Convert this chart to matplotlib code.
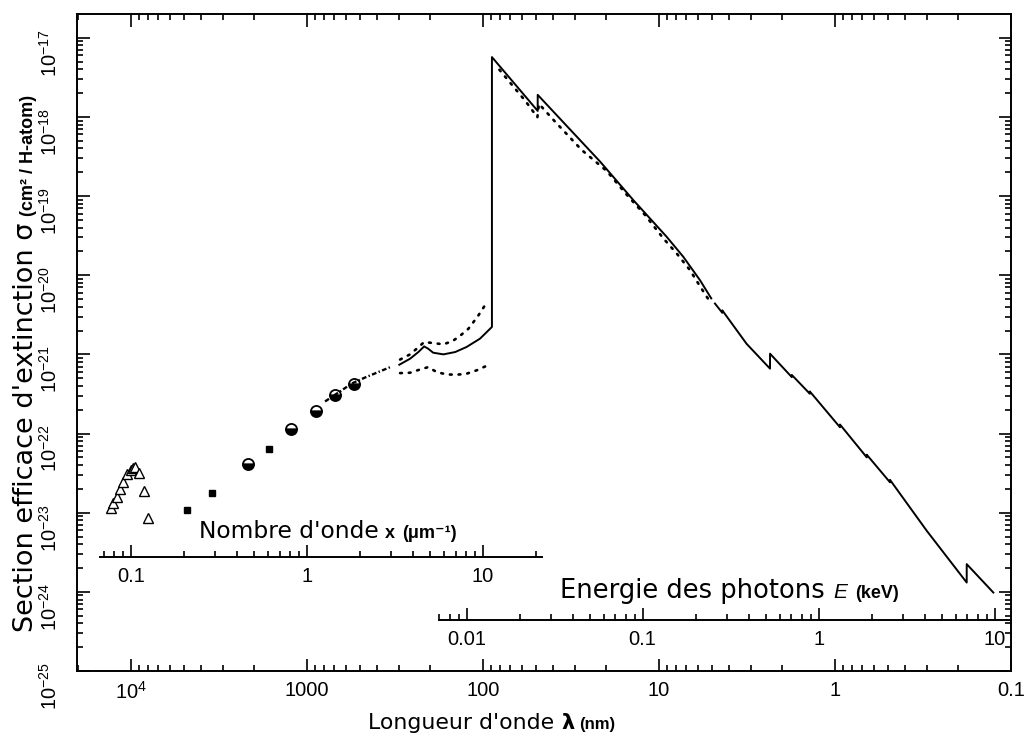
import numpy as np
import matplotlib
matplotlib.use('Agg')
import matplotlib.pyplot as plt
from matplotlib.ticker import FixedLocator, LogLocator, NullFormatter

plt.rcParams['font.family'] = ['Liberation Sans', 'DejaVu Sans']
plt.rcParams['mathtext.fontset'] = 'custom'
plt.rcParams['mathtext.rm'] = 'Liberation Sans'
plt.rcParams['mathtext.it'] = 'Liberation Sans:italic'
plt.rcParams['mathtext.bf'] = 'Liberation Sans:bold'

# Infrared points (triangles), lambda in nm, sigma in cm2 / H-atom
ir_lam = [13040, 12610, 12060, 11550, 11060, 10580, 10040, 9740, 9450, 8970, 8440, 7970]
ir_sig = [1.16e-23, 1.31e-23, 1.56e-23, 2.01e-23, 2.42e-23, 3.09e-23, 3.47e-23, 3.72e-23,
          3.74e-23, 3.15e-23, 1.86e-23, 8.6e-24]

# near-IR photometry (filled squares) and optical bands (circles)
sq_lam = [4790, 3480, 1640]
sq_sig = [1.08e-23, 1.75e-23, 6.4e-23]
ci_lam = [2170, 1230, 890, 690, 540]
ci_sig = [4.1e-23, 1.15e-22, 1.95e-22, 3.1e-22, 4.2e-22]

# optical extinction (dash-dot)
opt_lam = [790, 555, 468, 329]
opt_sig = [2.54e-22, 4.3e-22, 5.1e-22, 7.05e-22]

# UV extinction (solid) then X-ray absorption (solid)
uv_lam = [299, 260, 233, 216, 205, 192, 168, 144, 124, 104, 89]
uv_sig = [7.4e-22, 8.8e-22, 1.07e-21, 1.26e-21, 1.18e-21, 1.05e-21, 1.0e-21, 1.07e-21,
          1.24e-21, 1.58e-21, 2.22e-21]
xr_lam = [89, 48.9, 48.9, 21.6, 14.0, 9.04, 7.28, 5.85, 5.05, np.nan, 4.81, 4.37, 4.37,
          3.18, 2.34, 2.34, 1.76, 1.76, 1.39, 1.39, 0.937, 0.937, 0.66, 0.66, 0.487, 0.487,
          0.301, 0.1785, 0.1785, 0.126]
xr_sig = [5.7e-18, 1.19e-18, 1.9e-18, 2.72e-19, 8.9e-20, 3.05e-20, 1.71e-20, 8.65e-21, 5.1e-21,
          np.nan, 4.39e-21, 3.35e-21, 3.6e-21, 1.36e-21, 6.6e-22, 1.02e-21, 5.16e-22, 5.5e-22,
          3.18e-22, 3.4e-22, 1.2e-22, 1.3e-22, 5.0e-23, 5.4e-23, 2.42e-23, 2.6e-23,
          5.9e-24, 1.31e-24, 2.24e-24, 9.8e-25]

# dotted curves: UV upper / lower envelopes and X-ray (gas only)
up_lam = [296, 262, 238, 216, 192, 168, 149, 134, 121, 107, 95]
up_sig = [8.6e-22, 9.9e-22, 1.18e-21, 1.43e-21, 1.39e-21, 1.34e-21, 1.47e-21, 1.74e-21,
          2.11e-21, 3.03e-21, 4.55e-21]
lo_lam = [296, 260, 230, 205, 183, 161, 141, 124, 109, 97]
lo_sig = [5.8e-22, 5.86e-22, 6.4e-22, 6.9e-22, 5.97e-22, 5.58e-22, 5.53e-22, 5.7e-22,
          6.27e-22, 7.05e-22]
xd_lam = [80.7, 67.8, 57.7, 49.1, 48.1, 39.0, 27.5, 19.8, 15.6, 12.0, 9.45, 7.93, 6.67, 5.85, 5.13]
xd_sig = [3.94e-18, 2.47e-18, 1.61e-18, 9.9e-19, 1.46e-18, 8.73e-19, 3.82e-19, 2.07e-19,
          1.10e-19, 5.75e-20, 2.92e-20, 1.88e-20, 1.16e-20, 7.26e-21, 4.6e-21]

lam_ticks = [1e4, 1e3, 100, 10, 1, 0.1]
lam_labels = ['$10^4$', '1000', '100', '10', '1', '0.1']
sig_ticks = [10.0**e for e in range(-25, -16)]
sig_labels = ['$10^{%d}$' % e for e in range(-25, -16)]
wn_ticks = [0.1, 1, 10]
wn_labels = ['0.1', '1', '10']
en_ticks = [0.01, 0.1, 1, 10]
en_labels = ['0.01', '0.1', '1', '10']

W, H = 1025, 740
fig = plt.figure(figsize=(W / 100, H / 100), dpi=100)
ax = fig.add_axes([77 / W, 1 - 671 / H, 934 / W, 657 / H])
ax.set_xscale('log')
ax.set_yscale('log')
ax.set_xlim(10**4.307, 0.1)
ax.set_ylim(1e-25, 10**-16.7)

dots = (0, (0.7, 2.6))
ax.plot(uv_lam + xr_lam, uv_sig + xr_sig, color='k', lw=1.4)
ax.plot(up_lam, up_sig, color='k', lw=1.9, ls=dots, dash_capstyle='round')
ax.plot(lo_lam, lo_sig, color='k', lw=1.9, ls=dots, dash_capstyle='round')
ax.plot(xd_lam, xd_sig, color='k', lw=1.9, ls=dots, dash_capstyle='round')
ax.plot(opt_lam, opt_sig, color='k', lw=1.7, ls=(0, (2.0, 1.0, 0.6, 1.0)))
ax.plot(ir_lam, ir_sig, ls='none', marker='^', mfc='white', mec='k', ms=7, mew=1)
ax.plot(sq_lam, sq_sig, ls='none', marker='s', color='k', ms=4)
ax.plot(ci_lam, ci_sig, ls='none', marker='o', mfc='k', mec='k', ms=8, mew=1.3,
        fillstyle='bottom')

for s in ax.spines.values():
    s.set_linewidth(1.4)
ax.set_xticks(lam_ticks, lam_labels)
ax.set_yticks(sig_ticks, sig_labels)
ax.xaxis.set_minor_locator(LogLocator(base=10, subs=np.arange(2, 10), numticks=100))
ax.yaxis.set_minor_locator(LogLocator(base=10, subs=np.arange(2, 10), numticks=100))
ax.xaxis.set_minor_formatter(NullFormatter())
ax.yaxis.set_minor_formatter(NullFormatter())
ax.tick_params(which='both', direction='in', top=True, right=True, width=1.2)
ax.tick_params(which='major', length=9, labelsize=14.5)
ax.tick_params(which='minor', length=4.5)
ax.tick_params(axis='x', pad=7)
ax.tick_params(axis='y', pad=12, labelrotation=90)


def inv_scale(k):
    def f(v):
        v = np.array(v, dtype=float)
        out = np.full_like(v, np.inf)
        ok = ~np.isclose(v, 0)
        out[ok] = k / v[ok]
        return out
    return f


def side_axis(loc, k, lo, hi, ticks, labels):
    sec = ax.secondary_xaxis(loc, functions=(inv_scale(k), inv_scale(k)))
    sec.spines['bottom'].set_bounds(lo, hi)
    sec.spines['bottom'].set_linewidth(1.4)
    sec.set_xticks(ticks, labels)
    minor = [m * 10.0**d for d in range(-3, 3) for m in range(2, 10) if lo <= m * 10.0**d <= hi]
    sec.xaxis.set_minor_locator(FixedLocator(minor))
    sec.xaxis.set_minor_formatter(NullFormatter())
    sec.tick_params(which='both', direction='in', width=1.2, labelsize=14.5, pad=7)
    sec.tick_params(which='major', length=9)
    sec.tick_params(which='minor', length=4.5)
    return sec


# wave number x = 1000 / lambda (um^-1), photon energy E = 1.23984 / lambda (keV)
side_axis(0.1735, 1000.0, 0.0667, 21.6, wn_ticks, wn_labels)
side_axis(0.0776, 1.23984, 0.00697, 12.4, en_ticks, en_labels)


def big(size):
    return dict(family=['DejaVu Sans'], fontsize=size)


def unit(size):
    return dict(family=['Liberation Sans', 'DejaVu Sans'], fontsize=size, fontweight='bold')


def label_row(x, y, parts, rotation=0):
    # x, y: start of baseline in pixels from top-left
    r = fig.canvas.get_renderer()
    xd, yd = x, H - y
    for s, kw, gap in parts:
        t = fig.text(xd / W, yd / H, s, rotation=rotation, rotation_mode='anchor',
                     ha='left', va='baseline', **kw)
        bb = t.get_window_extent(r)
        if rotation == 0:
            xd = bb.x1 + gap
        else:
            yd = bb.y1 + gap


label_row(368, 729, [("Longueur d'onde", big(15.8), 7),
                     ('λ', dict(family=['DejaVu Sans'], fontsize=15, fontweight='bold'), 5),
                     ('(nm)', unit(12), 0)])
label_row(199, 538, [("Nombre d'onde", big(16.8), 6),
                     ('x', unit(13), 7),
                     ('(μm⁻¹)', unit(13), 0)])
label_row(560, 598, [('Energie des photons', big(18.5), 9),
                     ('E', dict(family=['Liberation Sans'], fontsize=15, style='italic'), 7),
                     ('(keV)', unit(13), 0)])
label_row(33, 632, [("Section efficace d'extinction σ", big(19.5), 7),
                    ('(cm² / H-atom)', unit(13), 0)], rotation=90)

fig.savefig('out.png', dpi=100)
